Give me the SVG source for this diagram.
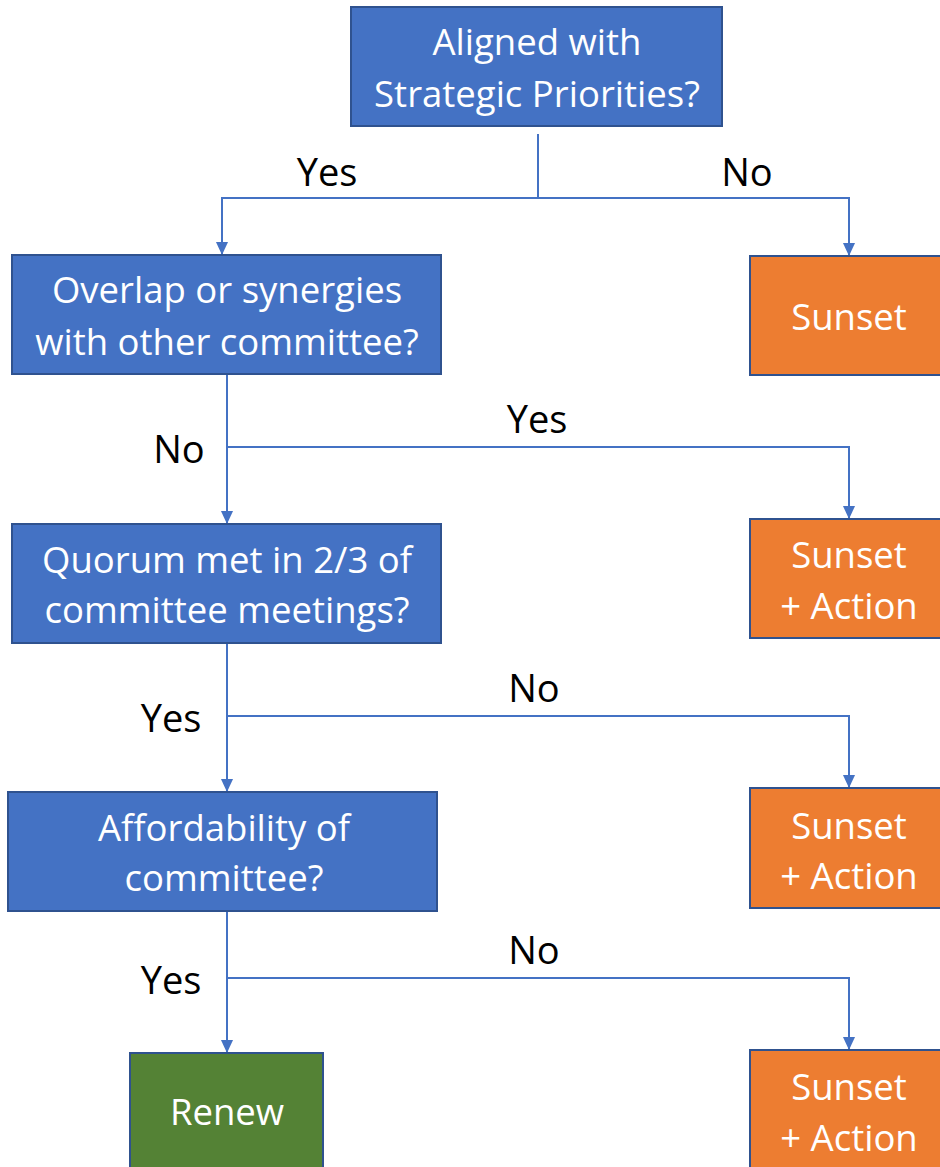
<svg xmlns="http://www.w3.org/2000/svg" width="940" height="1167" viewBox="0 0 940 1167">
<style>
.q{fill:#4472C4;stroke:#2F528F;stroke-width:2}
.o{fill:#ED7D31;stroke:#2F528F;stroke-width:2}
.g{fill:#548235;stroke:#2F528F;stroke-width:2}
.t{font-family:"Open Sans","Liberation Sans",sans-serif;font-size:36.5px;fill:#fff;text-anchor:middle}
.l{font-family:"Open Sans","Liberation Sans",sans-serif;font-size:38px;fill:#000;text-anchor:middle}
.c{fill:none;stroke:#4472C4;stroke-width:2}
</style>
<defs>
<marker id="a" markerWidth="13" markerHeight="14" refX="14" refY="6.5" orient="auto" markerUnits="userSpaceOnUse" viewBox="0 0 14 13">
<path d="M0,0 L14,6.5 L0,13 Z" fill="#4472C4"/>
</marker>
</defs>
<g id="connectors">
<path class="c" d="M538,134 V198 H222 V255" marker-end="url(#a)"/>
<path class="c" d="M538,198 H849 V256" marker-end="url(#a)"/>
<path class="c" d="M227,375 V524" marker-end="url(#a)"/>
<path class="c" d="M227,447 H849 V519" marker-end="url(#a)"/>
<path class="c" d="M227,644 V792" marker-end="url(#a)"/>
<path class="c" d="M227,716 H849 V788" marker-end="url(#a)"/>
<path class="c" d="M227,912 V1053" marker-end="url(#a)"/>
<path class="c" d="M227,978 H849 V1050" marker-end="url(#a)"/>
</g>
<g id="labels">
<text class="l" x="327" y="186">Yes</text>
<text class="l" x="747" y="186">No</text>
<text class="l" x="179" y="463">No</text>
<text class="l" x="537" y="433">Yes</text>
<text class="l" x="171" y="732">Yes</text>
<text class="l" x="534" y="702">No</text>
<text class="l" x="171" y="994">Yes</text>
<text class="l" x="534" y="964">No</text>
</g>
<g id="n1"><rect class="q" x="351" y="7" width="371" height="119"/>
<text class="t" x="537" y="55">Aligned with</text><text class="t" x="537" y="107">Strategic Priorities?</text></g>
<g id="n2"><rect class="q" x="12" y="255" width="429" height="119"/>
<text class="t" x="227" y="303">Overlap or synergies</text><text class="t" x="227" y="355">with other committee?</text></g>
<g id="n3"><rect class="o" x="750" y="256" width="200" height="119"/>
<text class="t" x="849" y="330">Sunset</text></g>
<g id="n4"><rect class="q" x="12" y="524" width="429" height="119"/>
<text class="t" x="227" y="573">Quorum met in 2/3 of</text><text class="t" x="227" y="623">committee meetings?</text></g>
<g id="n5"><rect class="o" x="750" y="519" width="200" height="119"/>
<text class="t" x="849" y="568">Sunset</text><text class="t" x="849" y="619">+ Action</text></g>
<g id="n6"><rect class="q" x="8" y="792" width="429" height="119"/>
<text class="t" x="224" y="841">Affordability of</text><text class="t" x="224" y="891">committee?</text></g>
<g id="n7"><rect class="o" x="750" y="788" width="200" height="120"/>
<text class="t" x="849" y="839">Sunset</text><text class="t" x="849" y="889">+ Action</text></g>
<g id="n8"><rect class="g" x="130" y="1053" width="193" height="130"/>
<text class="t" x="227" y="1125">Renew</text></g>
<g id="n9"><rect class="o" x="750" y="1050" width="200" height="130"/>
<text class="t" x="849" y="1100">Sunset</text><text class="t" x="849" y="1151">+ Action</text></g>
</svg>
